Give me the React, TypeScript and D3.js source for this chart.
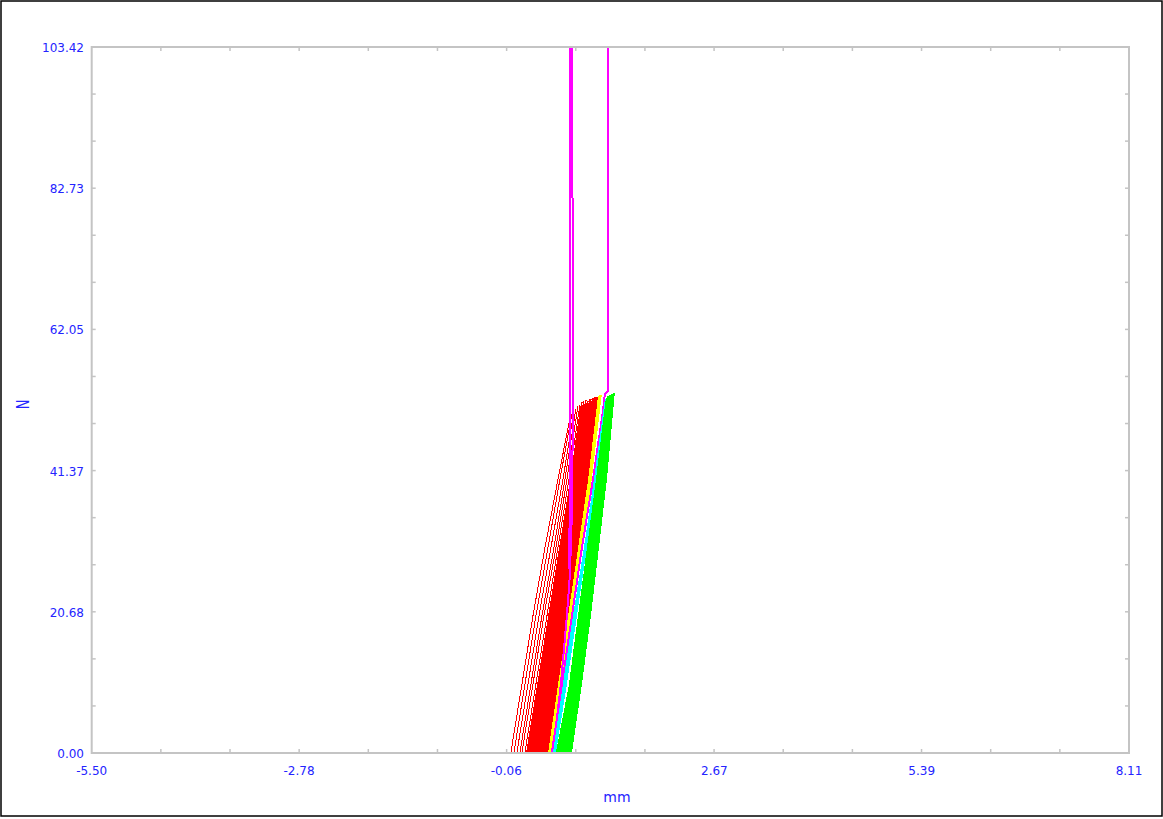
import { useEffect, useRef } from 'react'
import * as d3 from 'd3'

// force levels (N) at which each curve's displacement was read
const forceLevels = [0, 10, 20, 30, 40]

// rows: displacement (mm) at each force level, then peak displacement (mm), peak force (N)
const redCurves = [
  [-0.001, 0.144, 0.288, 0.446, 0.616, 0.774, 49.0],
  [0.039, 0.183, 0.327, 0.485, 0.642, 0.8, 49.6],
  [0.078, 0.223, 0.367, 0.524, 0.682, 0.826, 50.0],
  [0.118, 0.262, 0.406, 0.564, 0.708, 0.852, 50.4],
  [0.144, 0.288, 0.432, 0.59, 0.734, 0.879, 50.8],
  [0.183, 0.327, 0.472, 0.616, 0.76, 0.905, 51.0],
  [0.209, 0.354, 0.498, 0.642, 0.787, 0.918, 50.6],
  [0.223, 0.367, 0.511, 0.655, 0.8, 0.931, 51.4],
  [0.236, 0.38, 0.524, 0.669, 0.813, 0.944, 50.9],
  [0.249, 0.393, 0.537, 0.682, 0.826, 0.957, 51.5],
  [0.262, 0.406, 0.55, 0.695, 0.839, 0.97, 51.1],
  [0.275, 0.419, 0.564, 0.708, 0.852, 0.984, 51.7],
  [0.288, 0.432, 0.577, 0.708, 0.852, 0.997, 51.2],
  [0.301, 0.446, 0.59, 0.721, 0.865, 1.01, 51.6],
  [0.314, 0.459, 0.603, 0.734, 0.879, 1.023, 51.2],
  [0.327, 0.472, 0.603, 0.747, 0.892, 1.036, 51.8],
  [0.341, 0.485, 0.616, 0.76, 0.905, 1.036, 51.4],
  [0.354, 0.498, 0.629, 0.774, 0.918, 1.049, 51.9],
  [0.367, 0.511, 0.642, 0.787, 0.918, 1.062, 51.5],
  [0.38, 0.524, 0.655, 0.8, 0.931, 1.076, 52.0],
  [0.393, 0.524, 0.669, 0.8, 0.944, 1.076, 51.6],
  [0.406, 0.537, 0.682, 0.813, 0.957, 1.089, 52.0],
  [0.419, 0.55, 0.695, 0.826, 0.97, 1.102, 51.7],
  [0.432, 0.564, 0.708, 0.839, 0.97, 1.102, 52.1],
  [0.446, 0.577, 0.708, 0.852, 0.984, 1.115, 51.8],
  [0.459, 0.59, 0.721, 0.865, 0.997, 1.128, 52.1],
  [0.472, 0.603, 0.734, 0.879, 1.01, 1.128, 51.8],
  [0.485, 0.616, 0.747, 0.879, 1.01, 1.141, 52.2],
]
// the first few red runs sit apart from the dense bundle
const isolatedRedCount = 6

const yellowCurves = [
  [0.498, 0.629, 0.76, 0.892, 1.023, 1.154, 52.3],
  [0.511, 0.642, 0.774, 0.905, 1.036, 1.167, 52.5],
  [0.524, 0.655, 0.787, 0.918, 1.049, 1.181, 52.4],
]

const cyanCurves = [
  [0.564, 0.695, 0.826, 0.97, 1.102, 1.246, 51.8],
  [0.577, 0.721, 0.852, 0.984, 1.128, 1.259, 52.0],
]

const greenCurves = [
  [0.603, 0.774, 0.892, 1.01, 1.128, 1.259, 52.0],
  [0.629, 0.8, 0.918, 1.036, 1.154, 1.272, 52.3],
  [0.655, 0.826, 0.944, 1.062, 1.167, 1.286, 52.1],
  [0.682, 0.839, 0.957, 1.076, 1.181, 1.299, 52.5],
  [0.708, 0.865, 0.984, 1.089, 1.194, 1.312, 52.3],
  [0.734, 0.879, 0.997, 1.102, 1.207, 1.325, 52.6],
  [0.76, 0.905, 1.023, 1.128, 1.233, 1.338, 52.5],
  [0.787, 0.918, 1.036, 1.141, 1.246, 1.351, 52.8],
]

// magenta runs that overshoot the top of the scale: [mm, N]
const magentaSpikeA = [
  [0.55, 0], [0.655, 10], [0.734, 20], [0.774, 26], [0.8, 35], [0.813, 49],
  [0.813, 81], [0.8, 82], [0.8, 130], [0.78, 130], [0.78, 40], [0.76, 27],
]
const magentaSpikeB = [
  [0.537, 0], [0.669, 10], [0.8, 20], [0.931, 30], [1.076, 40], [1.207, 50],
  [1.233, 52.6], [1.272, 53], [1.272, 130],
]

const xTickLabels = ['-5.50', '-2.78', '-0.06', '2.67', '5.39', '8.11']
const yTickLabels = ['0.00', '20.68', '41.37', '62.05', '82.73', '103.42']

const W = 1163
const H = 819
const FONT = "'DejaVu Sans', Verdana, sans-serif"
const BLUE = '#2424ff'
const GRID = '#c4c4c4'

function toPoints(row: number[]) {
  const pts = forceLevels.map((f, i) => [row[i], f])
  pts.push([row[5], row[6]])
  return pts
}

export default function App() {
  const ref = useRef<SVGSVGElement>(null)

  useEffect(() => {
    if (!ref.current) return
    const svg = d3.select(ref.current)
    svg.selectAll('*').remove()

    const xMin = +xTickLabels[0]
    const xMax = +xTickLabels[xTickLabels.length - 1]
    const yMax = +yTickLabels[yTickLabels.length - 1]

    const x = d3.scaleLinear().domain([xMin, xMax]).range([91.7, 1129])
    const y = d3.scaleLinear().domain([0, yMax]).range([753, 47])

    // outer black border
    svg
      .append('rect')
      .attr('x', 1)
      .attr('y', 1)
      .attr('width', 1161)
      .attr('height', 815)
      .attr('fill', '#fff')
      .attr('stroke', '#000')
      .attr('stroke-width', 1.5)

    svg
      .append('clipPath')
      .attr('id', 'plot-clip')
      .append('rect')
      .attr('x', x(xMin))
      .attr('y', y(yMax))
      .attr('width', x(xMax) - x(xMin))
      .attr('height', y(0) - y(yMax))

    // curves
    const line = d3
      .line<number[]>()
      .x((d) => x(d[0]))
      .y((d) => y(d[1]))

    const curves = svg.append('g').attr('clip-path', 'url(#plot-clip)').attr('fill', 'none')

    const drawSet = (rows: number[][], color: string, width: (i: number) => number) => {
      curves
        .append('g')
        .selectAll('path')
        .data(rows.map(toPoints))
        .join('path')
        .attr('d', line)
        .attr('stroke', color)
        .attr('stroke-width', (_, i) => width(i))
        .attr('shape-rendering', 'crispEdges')
    }

    drawSet(redCurves, '#ff0000', (i) => (i < isolatedRedCount ? 1 : 1.6))
    drawSet(yellowCurves, '#ffff00', () => 1.6)
    curves
      .append('g')
      .selectAll('path')
      .data([magentaSpikeA, magentaSpikeB])
      .join('path')
      .attr('d', line)
      .attr('stroke', '#ff00ff')
      .attr('stroke-width', 2)
      .attr('shape-rendering', 'crispEdges')
    drawSet(cyanCurves, '#00ffff', () => 2)
    drawSet(greenCurves, '#00ff00', () => 2)

    // frame
    svg
      .append('rect')
      .attr('x', x(xMin))
      .attr('y', y(yMax))
      .attr('width', x(xMax) - x(xMin))
      .attr('height', y(0) - y(yMax))
      .attr('fill', 'none')
      .attr('stroke', GRID)
      .attr('stroke-width', 2)

    // small inward ticks every third of a major step, on all four sides
    const xStep = (xMax - xMin) / 15
    const yStep = yMax / 15
    const xMinor = d3.range(1, 15).map((i) => xMin + i * xStep)
    const yMinor = d3.range(1, 15).map((i) => i * yStep)
    const ticks = svg.append('g').attr('stroke', GRID).attr('stroke-width', 1.5)
    xMinor.forEach((v) => {
      ticks.append('line').attr('x1', x(v)).attr('x2', x(v)).attr('y1', y(0)).attr('y2', y(0) - 4)
      ticks.append('line').attr('x1', x(v)).attr('x2', x(v)).attr('y1', y(yMax)).attr('y2', y(yMax) + 4)
    })
    yMinor.forEach((v) => {
      ticks.append('line').attr('x1', x(xMin)).attr('x2', x(xMin) + 4).attr('y1', y(v)).attr('y2', y(v))
      ticks.append('line').attr('x1', x(xMax)).attr('x2', x(xMax) - 4).attr('y1', y(v)).attr('y2', y(v))
    })

    // tick labels
    svg
      .append('g')
      .selectAll('text')
      .data(xTickLabels)
      .join('text')
      .attr('x', (d) => x(+d))
      .attr('y', 775)
      .attr('text-anchor', 'middle')
      .style('font-family', FONT)
      .style('font-size', '12px')
      .style('fill', BLUE)
      .text((d) => d)

    svg
      .append('g')
      .selectAll('text')
      .data(yTickLabels)
      .join('text')
      .attr('x', 84)
      .attr('y', (d) => y(+d) + 5)
      .attr('text-anchor', 'end')
      .style('font-family', FONT)
      .style('font-size', '12px')
      .style('fill', BLUE)
      .text((d) => d)

    // axis titles
    svg
      .append('text')
      .attr('x', 617)
      .attr('y', 801.5)
      .attr('text-anchor', 'middle')
      .style('font-family', FONT)
      .style('font-size', '14px')
      .style('fill', BLUE)
      .text('mm')

    svg
      .append('text')
      .attr('transform', 'translate(29,404.5) rotate(-90) scale(1,1.4)')
      .attr('text-anchor', 'middle')
      .style('font-family', FONT)
      .style('font-size', '13px')
      .style('fill', BLUE)
      .text('N')
  }, [])

  return <svg ref={ref} width={W} height={H} style={{ position: 'absolute', left: 0, top: 0 }} />
}
